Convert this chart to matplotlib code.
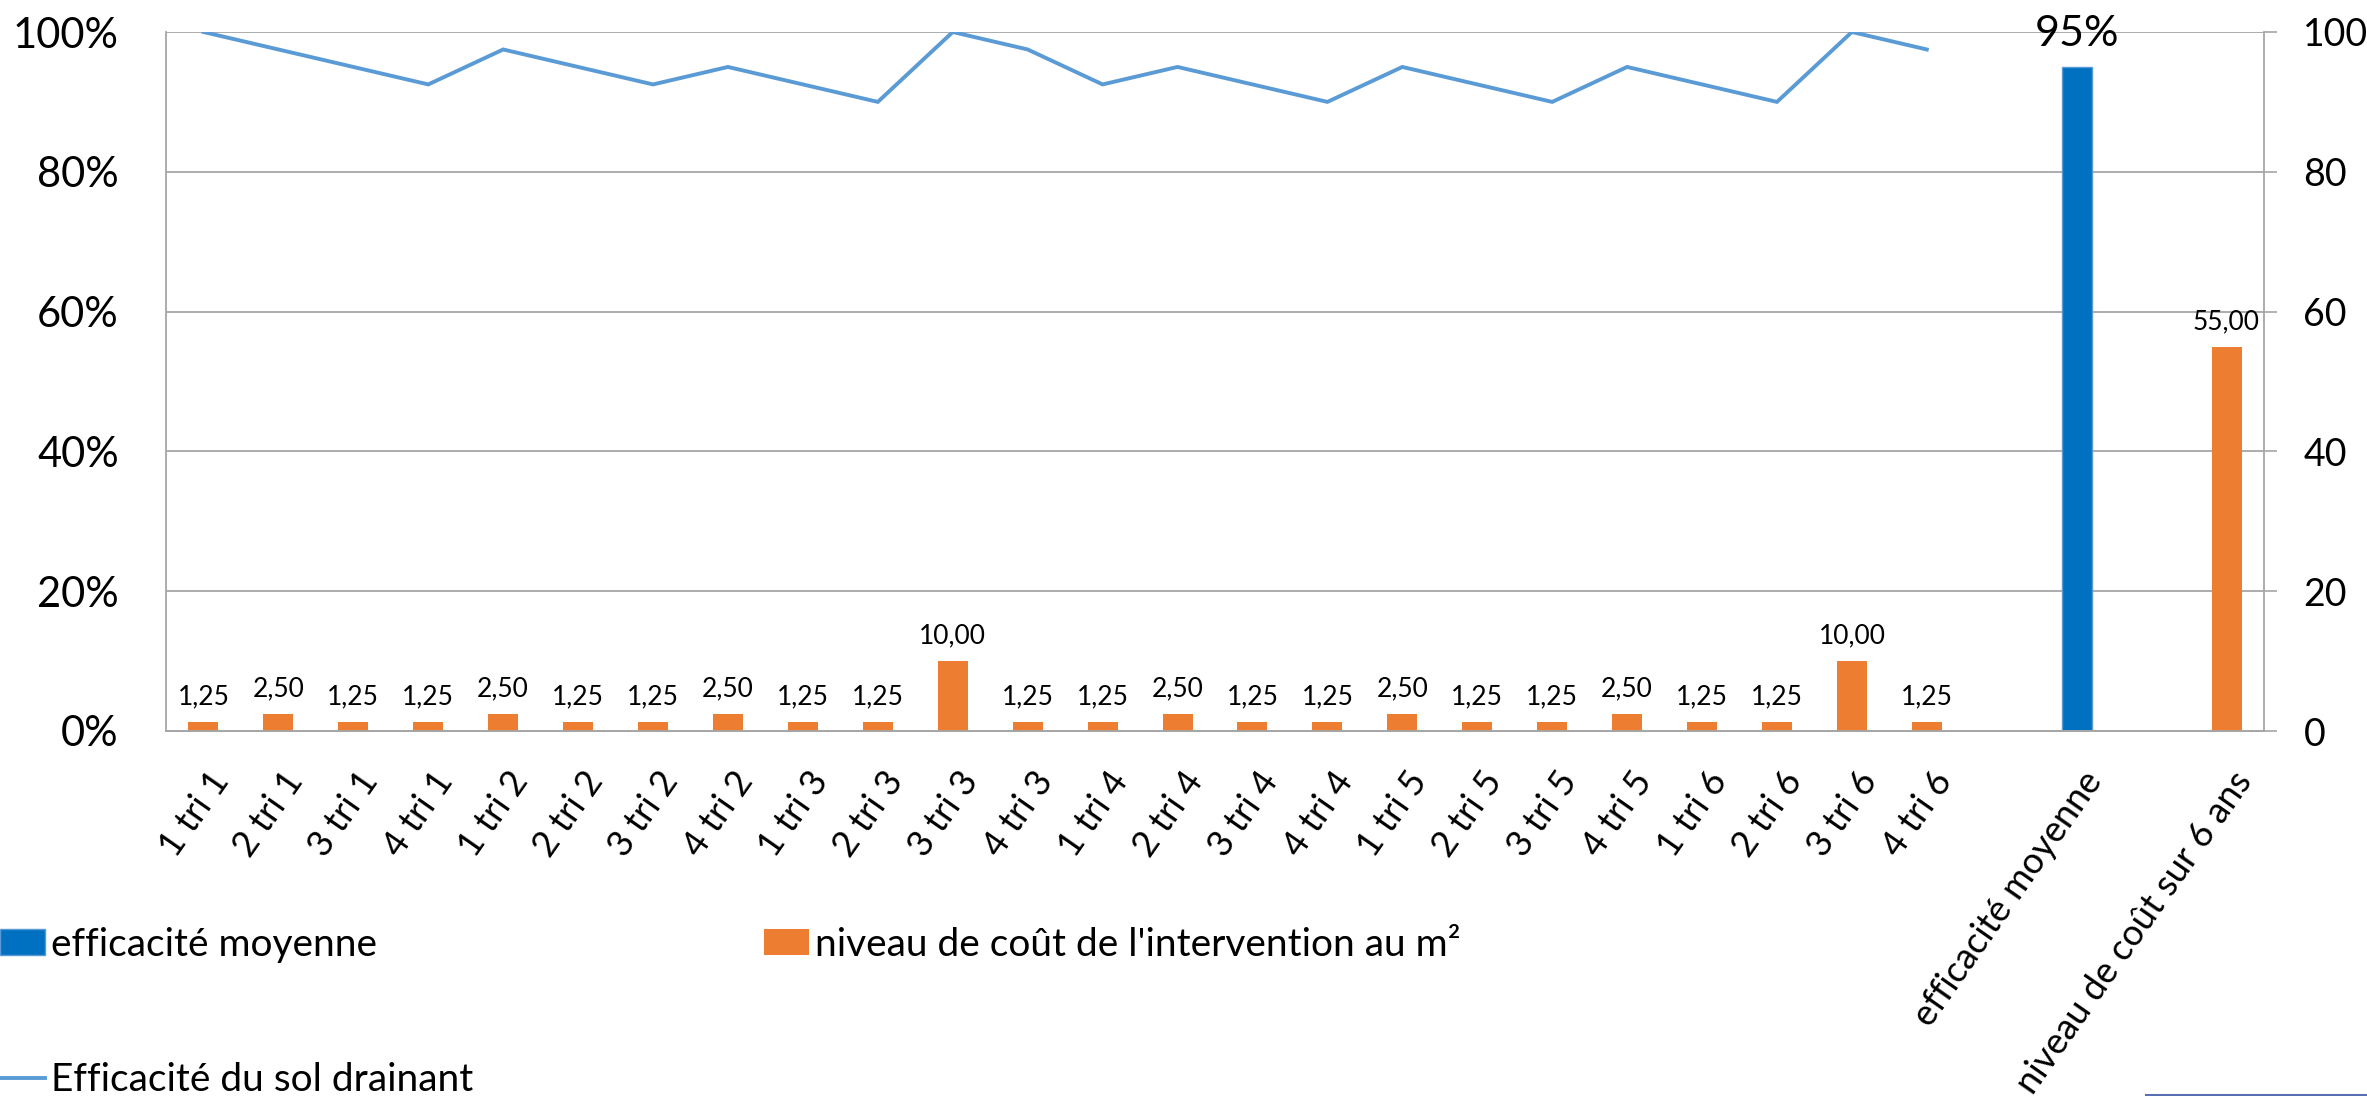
import matplotlib
matplotlib.use("Agg")
import matplotlib.pyplot as plt
from matplotlib.lines import Line2D
from matplotlib.patches import Patch
from matplotlib.transforms import ScaledTranslation

plt.rcParams['font.family'] = ['Lato', 'DejaVu Sans']

# categories de l'axe x (les cases vides sont des espaces dans le graphe d'origine)
categories = ["1 tri 1", "2 tri 1", "3 tri 1", "4 tri 1",
              "1 tri 2", "2 tri 2", "3 tri 2", "4 tri 2",
              "1 tri 3", "2 tri 3", "3 tri 3", "4 tri 3",
              "1 tri 4", "2 tri 4", "3 tri 4", "4 tri 4",
              "1 tri 5", "2 tri 5", "3 tri 5", "4 tri 5",
              "1 tri 6", "2 tri 6", "3 tri 6", "4 tri 6",
              "", "efficacité moyenne", "", "niveau de coût sur 6 ans"]
trimestres = categories[:24]

# efficacité du sol drainant (%)
efficacite_sol = [100, 97.5, 95, 92.5, 97.5, 95, 92.5, 95,
                  92.5, 90, 100, 97.5, 92.5, 95, 92.5, 90,
                  95, 92.5, 90, 95, 92.5, 90, 100, 97.5]
efficacite_moyenne = 95

# niveau de coût de l'intervention au m²
cout_m2 = [1.25, 2.5, 1.25, 1.25, 2.5, 1.25, 1.25, 2.5,
           1.25, 1.25, 10, 1.25, 1.25, 2.5, 1.25, 1.25,
           2.5, 1.25, 1.25, 2.5, 1.25, 1.25, 10, 1.25]
cout_total = 55

BLEU = '#0070c0'
ORANGE = '#ed7d31'
LIGNE = '#5b9bd5'
GRIS = '#a6a6a6'

W, H = 2367, 1096
fig = plt.figure(figsize=(W / 100, H / 100), dpi=100)
ax = fig.add_axes([166 / W, 1 - 731 / H, (2264 - 166) / W, (731 - 32) / H])
ax2 = ax.twinx()

x_trim = [categories.index(c) for c in trimestres]
x_moy = categories.index("efficacité moyenne")
x_tot = categories.index("niveau de coût sur 6 ans")

# axe principal : barre bleue + ligne
ax.bar([x_moy], [efficacite_moyenne], width=0.4, color=BLEU,
       edgecolor='#5b9bd5', linewidth=1)
ax.plot(x_trim, efficacite_sol, color=LIGNE, lw=2.8, solid_joinstyle='miter')
ax.text(x_moy, efficacite_moyenne + 2, f"{efficacite_moyenne}%", ha='center',
        va='bottom', fontsize=31)

# axe secondaire : barres orange
x_cout = x_trim + [x_tot]
v_cout = cout_m2 + [cout_total]
ax2.bar(x_cout, v_cout, width=0.4, color=ORANGE)
for x, v in zip(x_cout, v_cout):
    ax2.annotate(f"{v:.2f}".replace('.', ','), (x, v), xytext=(0, 9),
                 textcoords='offset points', ha='center', va='bottom',
                 fontsize=19)

for a in (ax, ax2):
    a.set_xlim(-0.5, len(categories) - 0.5)
    a.set_ylim(0, 100)
    a.set_yticks(range(0, 101, 20))

ax.set_yticklabels([f"{t}%" for t in range(0, 101, 20)])
ax.yaxis.grid(True, color=GRIS, lw=1.3)
ax.set_axisbelow(True)
ax.tick_params(axis='y', length=0, pad=34, labelsize=30)
ax2.tick_params(axis='y', length=9.4, width=1.2, color=GRIS, pad=19, labelsize=27)

ax.set_xticks(range(len(categories)))
ax.set_xticklabels(categories, rotation=55, ha='right', va='center',
                   rotation_mode='anchor', fontsize=26)
ax.tick_params(axis='x', length=0, pad=32)
decal = ScaledTranslation(0.18, 0, fig.dpi_scale_trans)
for lbl in ax.get_xticklabels():
    lbl.set_transform(lbl.get_transform() + decal)

for a in (ax, ax2):
    for s in a.spines.values():
        s.set_color(GRIS)
        s.set_linewidth(1.3)
    a.spines['top'].set_visible(False)
ax.spines['right'].set_visible(False)
ax2.spines['left'].set_visible(False)

handles = [Patch(facecolor=BLEU, edgecolor='#5b9bd5'),
           Line2D([], [], color=LIGNE, lw=2.8),
           Patch(facecolor=ORANGE)]
labels = ["efficacité moyenne", "Efficacité du sol drainant",
          "niveau de coût de l'intervention au m²"]
fig.legend(handles, labels, ncol=2, loc='upper left',
           bbox_to_anchor=(0, 1 - 927 / H), frameon=False, fontsize=28,
           handlelength=1.15, handleheight=0.65, handletextpad=0.15,
           columnspacing=7.5, labelspacing=2.55, borderpad=0, borderaxespad=0)

# petit trait coupé en bas à droite
fig.add_artist(Line2D([2146 / W, 1], [1 - 1094.5 / H] * 2, transform=fig.transFigure,
                      color='#5a6eb4', lw=2.2))

fig.savefig("out.png", dpi=100)
